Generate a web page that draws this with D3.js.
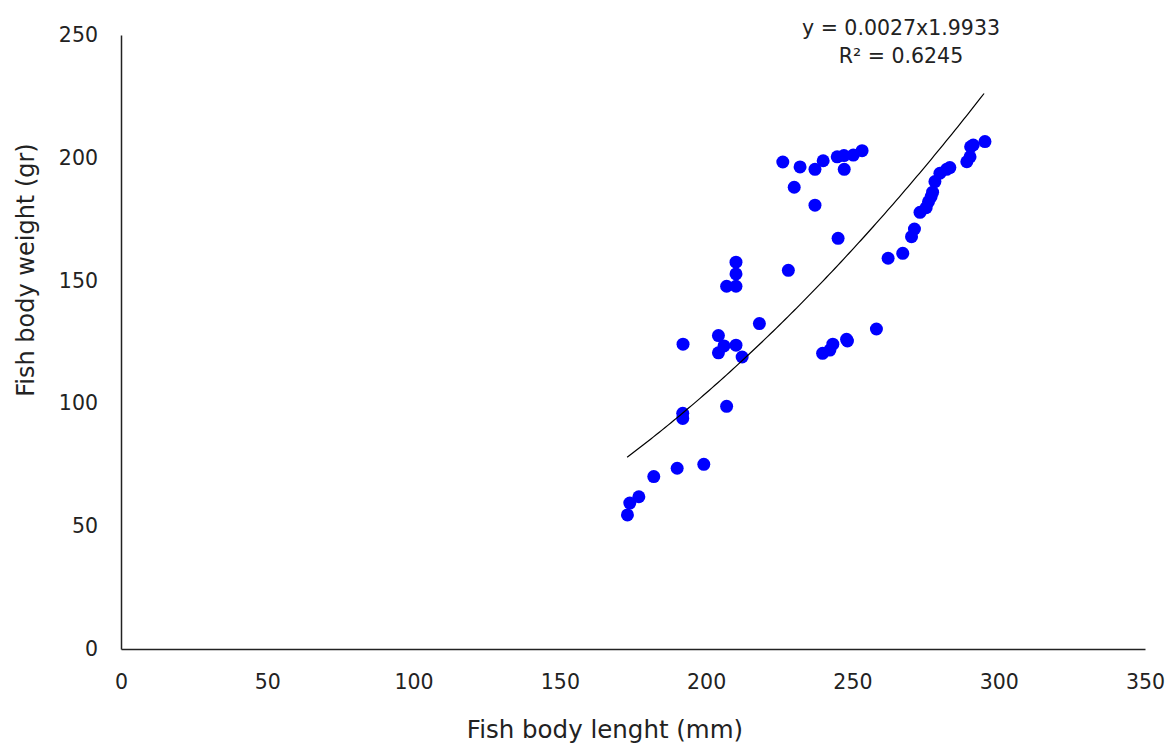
<!DOCTYPE html>
<html>
<head>
<meta charset="utf-8">
<script src="https://cdn.jsdelivr.net/npm/d3@7"></script>
<style>
  html, body { margin: 0; padding: 0; background: #ffffff; }
  svg { display: block; }
  text { font-family: "DejaVu Sans", sans-serif; fill: #222; }
</style>
</head>
<body>
<svg id="chart" width="1169" height="745"></svg>
<script>
// ---- data ----
const lengths = [226.2, 232.1, 237.2, 240.0, 244.8, 247.1, 250.3, 253.3, 247.2, 230.1,
                 237.2, 245.1, 262.2, 267.2, 210.2, 210.2, 207.0, 210.2, 228.1, 218.2,
                 192.1, 204.2, 206.1, 204.2, 210.2, 212.3, 239.8, 242.3, 243.3, 248.3,
                 248.0, 258.2, 192.0, 192.0, 207.0, 182.1, 190.1, 199.2, 177.0, 173.9,
                 173.1, 270.2, 271.2, 273.1, 275.2, 276.0, 276.9, 277.4, 278.2, 279.9,
                 282.2, 283.3, 289.1, 290.2, 290.4, 291.3, 295.3];
const weights = [198.3, 196.3, 195.3, 198.8, 200.4, 200.9, 201.1, 202.9, 195.3, 188.0,
                 180.7, 167.2, 159.1, 161.1, 157.5, 152.7, 147.7, 147.7, 154.2, 132.5,
                 124.1, 127.6, 123.4, 120.6, 123.7, 118.9, 120.4, 121.7, 124.1, 125.4,
                 126.1, 130.3, 96.0, 93.9, 98.8, 70.2, 73.6, 75.2, 62.0, 59.4,
                 54.6, 167.9, 171.0, 177.8, 179.7, 182.1, 184.2, 186.0, 190.3, 193.7,
                 195.3, 196.0, 198.4, 200.4, 204.5, 205.2, 206.6];
const xTicks = [0, 50, 100, 150, 200, 250, 300, 350];
const yTicks = [0, 50, 100, 150, 200, 250];
const trendCoef = [0.0027, 1.9933];       // y = a * x^b (as shown on chart)
const trendRange = [173, 295];
const eqLines = ["y = 0.0027x1.9933", "R\u00B2 = 0.6245"];
const xTitle = "Fish body lenght (mm)";
const yTitle = "Fish body weight (gr)";

// ---- layout ----
const svg = d3.select("#chart");
const mLeft = 121, mRight = 1145, mTop = 35, mBottom = 649;

const x = d3.scaleLinear().domain([0, 350]).range([mLeft, mRight]);
const y = d3.scaleLinear().domain([0, 250]).range([mBottom, mTop]);

// x axis
const gx = svg.append("g").attr("transform", `translate(0,${mBottom})`)
  .call(d3.axisBottom(x).tickValues(xTicks).tickSize(0).tickSizeOuter(0).tickPadding(25));
gx.select(".domain").attr("stroke", "#222").attr("stroke-width", 1.5);
gx.selectAll("text").style("font-size", "20.5px").attr("fill", "#222")
  .style("font-family", "'DejaVu Sans', sans-serif");

// y axis
const gy = svg.append("g").attr("transform", `translate(${mLeft},0)`)
  .call(d3.axisLeft(y).tickValues(yTicks).tickSize(0).tickSizeOuter(0).tickPadding(23));
gy.select(".domain").attr("stroke", "#222").attr("stroke-width", 1.5);
gy.selectAll("text").style("font-size", "20.5px").attr("fill", "#222")
  .style("font-family", "'DejaVu Sans', sans-serif");

// points
const pts = lengths.map((l, i) => ({ l, w: weights[i] }));
svg.append("g").selectAll("circle").data(pts).join("circle")
  .attr("cx", d => x(d.l)).attr("cy", d => y(d.w)).attr("r", 6.5)
  .attr("fill", "#0000ff");

// trendline
const tx = d3.range(trendRange[0], trendRange[1] + 0.001, 1);
const line = d3.line().x(d => x(d)).y(d => y(trendCoef[0] * Math.pow(d, trendCoef[1])));
svg.append("path").datum(tx).attr("d", line)
  .attr("fill", "none").attr("stroke", "#000").attr("stroke-width", 1.2);

// equation
svg.append("text").attr("x", 901).attr("y", 35).attr("text-anchor", "middle")
  .style("font-size", "20.5px").text(eqLines[0]);
svg.append("text").attr("x", 901).attr("y", 63).attr("text-anchor", "middle")
  .style("font-size", "20.5px").text(eqLines[1]);

// axis titles
svg.append("text").attr("x", 605).attr("y", 738).attr("text-anchor", "middle")
  .style("font-size", "24.5px").text(xTitle);
svg.append("text").attr("transform", "translate(34,270) rotate(-90)")
  .attr("text-anchor", "middle").style("font-size", "24px").text(yTitle);
</script>
</body>
</html>
